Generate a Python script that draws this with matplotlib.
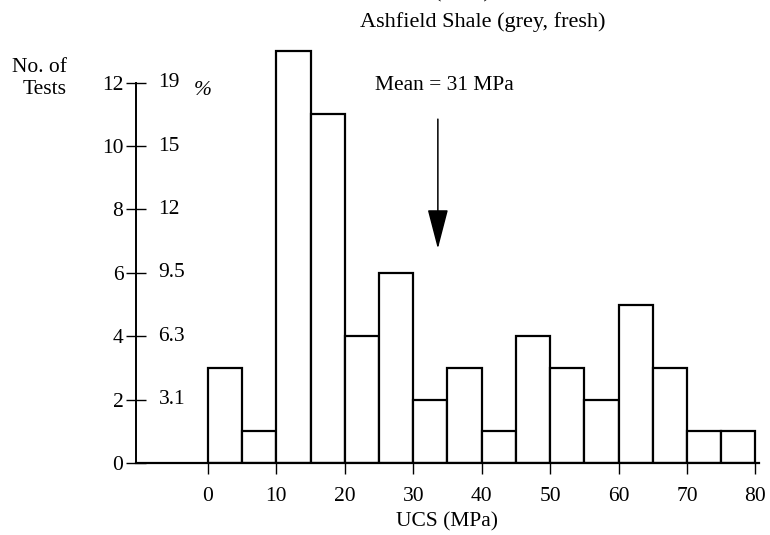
import matplotlib.pyplot as plt

plt.rcParams['font.family'] = ['Liberation Serif', 'DejaVu Serif']

# UCS histogram data (5 MPa bins)
bin_left = [0, 5, 10, 15, 20, 25, 30, 35, 40, 45, 50, 55, 60, 65, 70, 75]
counts = [3, 1, 13, 11, 4, 6, 2, 3, 1, 4, 3, 2, 5, 3, 1, 1]
count_ticks = [0, 2, 4, 6, 8, 10, 12]
pct_ticks = [2, 4, 6, 8, 10, 12]
pct_labels = ["3.1", "6.3", "9.5", "12", "15", "19"]
x_ticks = [0, 10, 20, 30, 40, 50, 60, 70, 80]

fs = 15.5

fig = plt.figure(figsize=(7.7, 5.35), dpi=100)
ax = fig.add_axes([0.1766, 0.1346, 0.809, 0.776])

ax.bar(bin_left, counts, width=5, align='edge', facecolor='white',
       edgecolor='black', linewidth=1.6)

ax.set_xlim(-10.5, 80.5)
ax.set_ylim(0, 13.1)

for s in ['top', 'right']:
    ax.spines[s].set_visible(False)
ax.spines['left'].set_bounds(0, 12)
ax.spines['left'].set_linewidth(1.4)
ax.spines['bottom'].set_linewidth(1.6)

ax.set_yticks(count_ticks)
ax.tick_params(axis='y', direction='inout', length=14, width=1, labelsize=fs, pad=2)
ax.set_xticks(x_ticks)
ax.tick_params(axis='x', direction='out', length=8, width=1, labelsize=fs, pad=9)
ax.set_xlabel('UCS (MPa)', fontsize=fs, labelpad=5)

# percent labels on the right of the count axis
for y, lab in zip(pct_ticks, pct_labels):
    ax.text(0.036, y, lab, transform=ax.get_yaxis_transform(), ha='left',
            va='center', fontsize=fs)
ax.text(0.092, 11.75, '%', transform=ax.get_yaxis_transform(), ha='left',
        va='center', fontsize=fs, style='italic')

fig.text(67 / 770, 1 - 67 / 535, 'No. of', ha='right', va='center', fontsize=fs)
fig.text(67 / 770, 1 - 89 / 535, 'Tests', ha='right', va='center', fontsize=fs)

# mean marker
ax.annotate('', xy=(33.6, 6.76), xytext=(33.6, 10.85),
            arrowprops=dict(arrowstyle='-|>,head_length=2.5,head_width=0.65',
                            mutation_scale=10, color='black', lw=1.1,
                            shrinkA=0, shrinkB=0))
ax.text(34.5, 11.9, 'Mean = 31 MPa', ha='center', va='center', fontsize=fs)

fig.text(483 / 770, 1 - 22 / 535, 'Ashfield Shale (grey, fresh)', ha='center',
         va='center', fontsize=16)
fig.text(438 / 770, 1.013, 'UCS (MPa)', ha='center', va='center', fontsize=16)

fig.savefig('out.png', dpi=100)
